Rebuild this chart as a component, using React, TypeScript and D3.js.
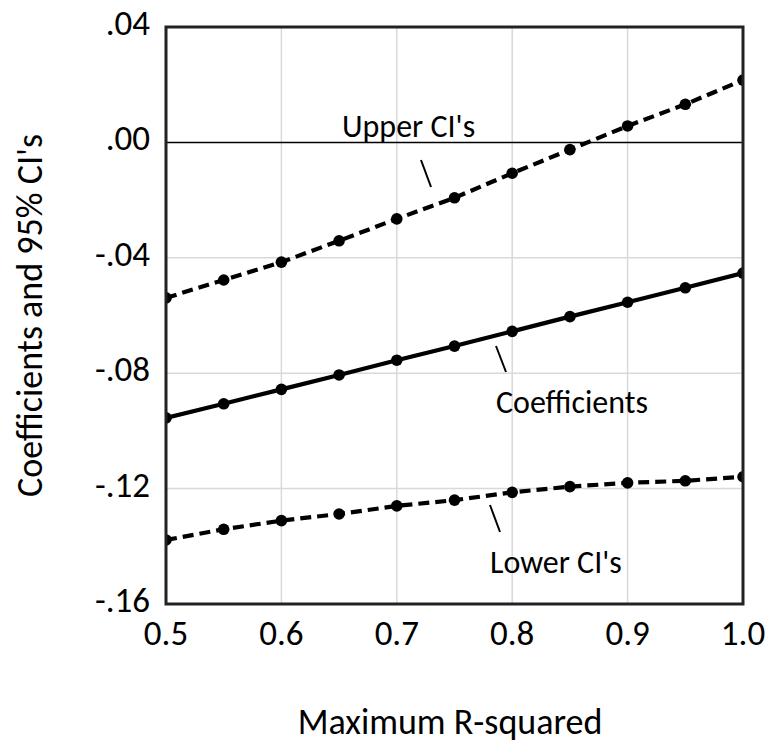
import React from "react";
import * as d3 from "d3";

const xValues = [0.5, 0.55, 0.6, 0.65, 0.7, 0.75, 0.8, 0.85, 0.9, 0.95, 1.0];
const upperCI = [-0.0539, -0.0477, -0.0415, -0.0341, -0.0265, -0.0192, -0.0107, -0.0025, 0.0057, 0.0132, 0.0216];
const coefficients = [-0.0955, -0.0906, -0.0856, -0.0806, -0.0755, -0.0706, -0.0655, -0.0604, -0.0554, -0.0504, -0.0453];
const lowerCI = [-0.1378, -0.1341, -0.1311, -0.1288, -0.126, -0.124, -0.1213, -0.1193, -0.118, -0.1173, -0.1159];
const xTicks = [0.5, 0.6, 0.7, 0.8, 0.9, 1.0];
const yTicks = [0.04, 0.0, -0.04, -0.08, -0.12, -0.16];
const yTickLabels = [".04", ".00", "-.04", "-.08", "-.12", "-.16"];

const W = 771;
const H = 744;
const left = 166, right = 743, top = 27, bottom = 604;
const FONT = "Carlito, 'Liberation Sans', Arial, sans-serif";

export default function App() {
  const x = d3.scaleLinear().domain([0.5, 1.0]).range([left, right]);
  const y = d3.scaleLinear().domain([-0.16, 0.04]).range([bottom, top]);
  const line = d3
    .line<number>()
    .x((_, i) => x(xValues[i]))
    .y((d) => y(d));

  const series = [
    { name: "upper", values: upperCI, dash: "11,6" },
    { name: "coef", values: coefficients, dash: undefined },
    { name: "lower", values: lowerCI, dash: "11,6" },
  ];

  return (
    <svg
      width={W}
      height={H}
      style={{ position: "absolute", left: 0, top: 0, background: "#fff" }}
    >
      <defs>
        <clipPath id="plotClip">
          <rect x={left} y={top} width={right - left} height={bottom - top} />
        </clipPath>
      </defs>
      <rect x={0} y={0} width={W} height={H} fill="#fff" />
      {xTicks.slice(1, -1).map((t) => (
        <line key={"gx" + t} x1={x(t)} x2={x(t)} y1={top} y2={bottom} stroke="#d9d9d9" strokeWidth={1.5} />
      ))}
      {yTicks.slice(1, -1).map((t) => (
        <line
          key={"gy" + t}
          x1={left}
          x2={right}
          y1={y(t)}
          y2={y(t)}
          stroke={t === 0 ? "#000" : "#d9d9d9"}
          strokeWidth={1.5}
        />
      ))}
      <g clipPath="url(#plotClip)">
        {series.map((s) => (
          <g key={s.name}>
            <path d={line(s.values) || ""} fill="none" stroke="#000" strokeWidth={4.2} strokeDasharray={s.dash} />
            {s.values.map((v, i) => (
              <circle key={i} cx={x(xValues[i])} cy={y(v)} r={5.8} fill="#000" />
            ))}
          </g>
        ))}
      </g>
      <rect x={left} y={top} width={right - left} height={bottom - top} fill="none" stroke="#222" strokeWidth={3} />
      {yTicks.map((t, i) => (
        <text
          key={"yt" + t}
          x={150}
          y={y(t) + 8}
          textAnchor="end"
          fontFamily={FONT}
          fontSize={35}
          fill="#000"
        >
          {yTickLabels[i]}
        </text>
      ))}
      {xTicks.map((t) => (
        <text key={"xt" + t} x={x(t)} y={645} textAnchor="middle" fontFamily={FONT} fontSize={35} fill="#000">
          {d3.format(".1f")(t)}
        </text>
      ))}
      <text x={450} y={734} textAnchor="middle" fontFamily={FONT} fontSize={36} fill="#000">
        Maximum R-squared
      </text>
      <text
        transform={`translate(42,${(top + bottom) / 2}) rotate(-90)`}
        textAnchor="middle"
        fontFamily={FONT}
        fontSize={36}
        fill="#000"
      >
        Coefficients and 95% CI's
      </text>
      <text x={342} y={137} fontFamily={FONT} fontSize={32} fill="#000">Upper CI's</text>
      <line x1={421} y1={160} x2={431} y2={187} stroke="#000" strokeWidth={2} />
      <text x={496} y={413} fontFamily={FONT} fontSize={32} fill="#000">Coefficients</text>
      <line x1={496} y1={346} x2={506} y2={372} stroke="#000" strokeWidth={2} />
      <text x={490} y={573} fontFamily={FONT} fontSize={32} fill="#000">Lower CI's</text>
      <line x1={490} y1={505} x2={500} y2={532} stroke="#000" strokeWidth={2} />
    </svg>
  );
}
